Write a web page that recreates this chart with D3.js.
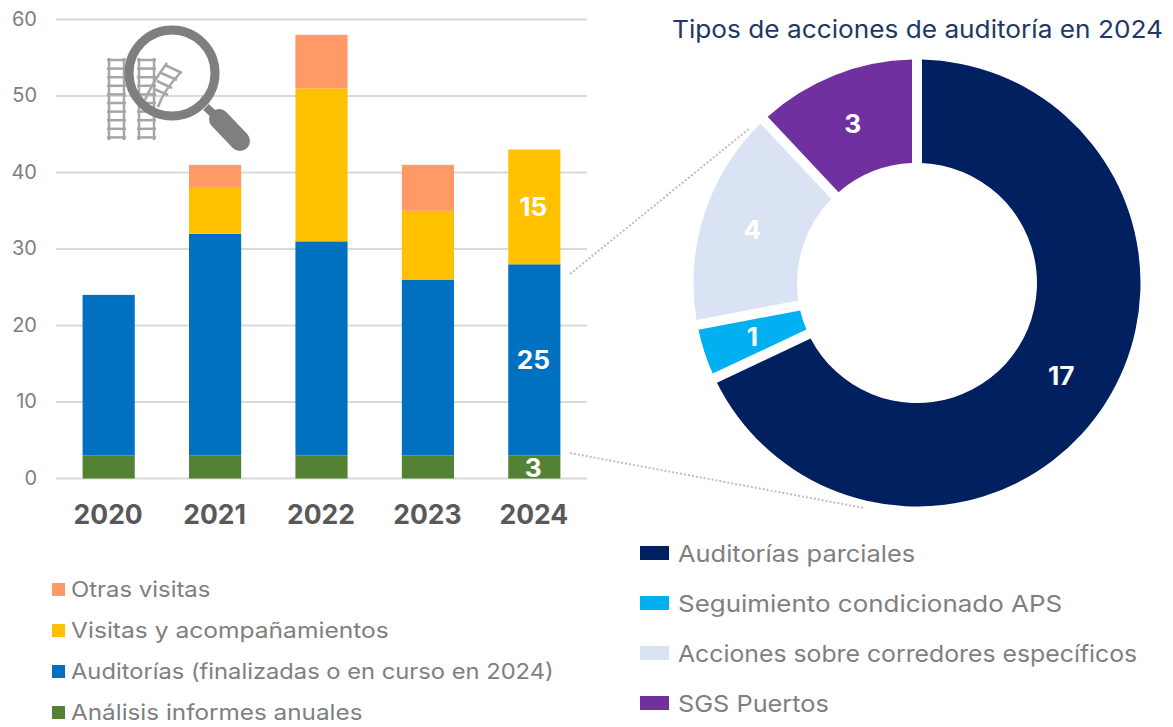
<!DOCTYPE html>
<html><head><meta charset="utf-8">
<script src="https://cdn.jsdelivr.net/npm/d3@7/dist/d3.min.js"></script>
<style>html,body{margin:0;padding:0;background:#fff;overflow:hidden}svg{display:block;font-family:Inter,"Open Sans",sans-serif}</style>
</head><body><svg id="c" width="1173" height="727"></svg>
<script>
const years=["2020","2021","2022","2023","2024"];
const analisis=[3,3,3,3,3];
const auditorias=[21,29,28,23,25];
const visitas=[0,6,20,9,15];
const otras=[0,3,7,6,0];
const seriesNames=["Análisis informes anuales","Auditorías (finalizadas o en curso en 2024)","Visitas y acompañamientos","Otras visitas"];
const seriesColors=["#548235","#0070C0","#FFC000","#FF9966"];
const yTicks=[0,10,20,30,40,50,60];
const donutNames=["Auditorías parciales","Seguimiento condicionado APS","Acciones sobre corredores específicos","SGS Puertos"];
const donutValues=[17,1,4,3];
const donutColors=["#002060","#00B0F0","#DAE3F3","#7030A0"];
const donutTitle="Tipos de acciones de auditoría en 2024";

const svg=d3.select("#c");
// the reference face is wider than any installed font: widen glyphs by a ratio
const widen=(sel,r)=>sel.each(function(d){const k=typeof r==="function"?r(d):r;this.setAttribute("textLength",this.getComputedTextLength()*k);this.setAttribute("lengthAdjust","spacingAndGlyphs");});
const leftFit=[1.130,1.103,1.143,1.111];
const rightFit=[1.082,1.104,1.055,1.077];
const x=d3.scaleBand().domain(years).range([56,587]).paddingInner(0.51).paddingOuter(0.25);
const y=d3.scaleLinear().domain([0,60]).range([478.5,19.5]);

// grid
svg.append("g").selectAll("line").data(yTicks).join("line")
 .attr("x1",56).attr("x2",587).attr("y1",d=>y(d)).attr("y2",d=>y(d))
 .attr("stroke","#D9D9D9").attr("stroke-width",2);
svg.append("g").selectAll("text").data(yTicks).join("text")
 .attr("x",37).attr("y",d=>y(d)+6).attr("text-anchor","end")
 .attr("font-size",20).attr("fill","#7F7F7F").text(d=>d);

// icon
const icon=svg.append("g").attr("fill","none");
const rail=icon.append("g").attr("stroke","#A6A6A6").attr("stroke-width",2.5);
[[107,126],[137,156]].forEach(([a,b])=>{
  rail.append("line").attr("x1",a+2).attr("x2",a+2).attr("y1",58).attr("y2",140);
  rail.append("line").attr("x1",b-2).attr("x2",b-2).attr("y1",58).attr("y2",140);
  d3.range(60,140,8.6).forEach(v=>rail.append("line").attr("x1",a).attr("x2",b).attr("y1",v).attr("y2",v));
});
rail.append("path").attr("d","M145 100 C150 88 158 75 167 63");
rail.append("path").attr("d","M158 107 C162 95 170 84 180 73");
[[165,65,182,73],[161,73,177,80],[157,81,172,88],[154,89,168,95]].forEach(s=>rail.append("line").attr("x1",s[0]).attr("y1",s[1]).attr("x2",s[2]).attr("y2",s[3]));
icon.append("circle").attr("cx",172).attr("cy",73).attr("r",43).attr("stroke","#7F7F7F").attr("stroke-width",9);
icon.append("line").attr("x1",206).attr("y1",107).attr("x2",222).attr("y2",122).attr("stroke","#7F7F7F").attr("stroke-width",8);
icon.append("line").attr("x1",219).attr("y1",119).attr("x2",240).attr("y2",141).attr("stroke","#7F7F7F").attr("stroke-width",20).attr("stroke-linecap","round");

// stacked bars
const rows=years.map((yr,i)=>({yr,a:analisis[i],b:auditorias[i],c:visitas[i],d:otras[i]}));
const stack=d3.stack().keys(["a","b","c","d"])(rows);
svg.append("g").selectAll("g").data(stack).join("g").attr("fill",(d,i)=>seriesColors[i])
 .selectAll("rect").data(d=>d).join("rect")
 .attr("x",d=>x(d.data.yr)).attr("width",x.bandwidth())
 .attr("y",d=>y(d[1])).attr("height",d=>y(d[0])-y(d[1]));

// value labels for the last bar
const last=years.length-1;
widen(svg.append("g").selectAll("text").data(stack.slice(0,3)).join("text")
 .attr("x",x(years[last])+x.bandwidth()/2-1)
 .attr("y",d=>(y(d[last][0])+y(d[last][1]))/2+9.5)
 .attr("text-anchor","middle").attr("font-size",25).attr("font-weight",700).attr("fill","#fff")
 .text(d=>d[last][1]-d[last][0]),1.05);

// year labels
svg.append("g").selectAll("text").data(years).join("text")
 .attr("x",d=>x(d)+x.bandwidth()/2-0.5).attr("y",524).attr("text-anchor","middle")
 .attr("font-size",26.5).attr("font-weight",700).attr("fill","#595959").text(d=>d);

// left legend
const legOrder=[3,2,1,0];
const legY=d3.scalePoint().domain(legOrder).range([590,713]);
const leg=svg.append("g");
leg.selectAll("rect").data(legOrder).join("rect").attr("x",52).attr("width",13).attr("height",13)
 .attr("y",d=>legY(d)-7).attr("fill",d=>seriesColors[d]);
widen(leg.selectAll("text").data(legOrder).join("text").attr("x",71).attr("y",d=>legY(d)+7)
 .attr("font-size",21.5).attr("fill","#7F7F7F").text(d=>seriesNames[d]),d=>leftFit[d]);

// connectors
const conn=svg.append("g").attr("stroke","#BFBFBF").attr("stroke-width",2).attr("stroke-dasharray","2 2");
conn.append("line").attr("x1",570).attr("y1",274).attr("x2",750).attr("y2",128);
conn.append("line").attr("x1",570).attr("y1",453).attr("x2",864).attr("y2",508);

// donut
const pie=d3.pie().sort(null)(donutValues);
const arc=d3.arc().innerRadius(120).outerRadius(223.5).padAngle(0.04).padRadius(250);
const dg=svg.append("g").attr("transform","translate(917,283)");
dg.selectAll("path").data(pie).join("path").attr("d",arc).attr("fill",(d,i)=>donutColors[i]);
const labelArc=d3.arc().innerRadius(120).outerRadius(224);
widen(dg.selectAll("text").data(pie).join("text")
 .attr("transform",d=>{const [a,b]=labelArc.centroid(d);return `translate(${a-1},${b+9.5})`})
 .attr("text-anchor","middle").attr("font-size",25).attr("font-weight",700).attr("fill","#fff").text(d=>d.value),1.05);

widen(svg.append("text").attr("x",672).attr("y",38).attr("font-size",24.5).attr("fill","#1F3864").text(donutTitle),1.07);

// right legend
const rY=d3.scalePoint().domain(d3.range(4)).range([553,703]);
const rl=svg.append("g");
rl.selectAll("rect").data(d3.range(4)).join("rect").attr("x",640).attr("width",29).attr("height",14)
 .attr("y",d=>rY(d)-7).attr("fill",d=>donutColors[d]);
widen(rl.selectAll("text").data(d3.range(4)).join("text").attr("x",678).attr("y",d=>rY(d)+8.5)
 .attr("font-size",23.5).attr("fill","#7F7F7F").text(d=>donutNames[d]),d=>rightFit[d]);
</script></body></html>
